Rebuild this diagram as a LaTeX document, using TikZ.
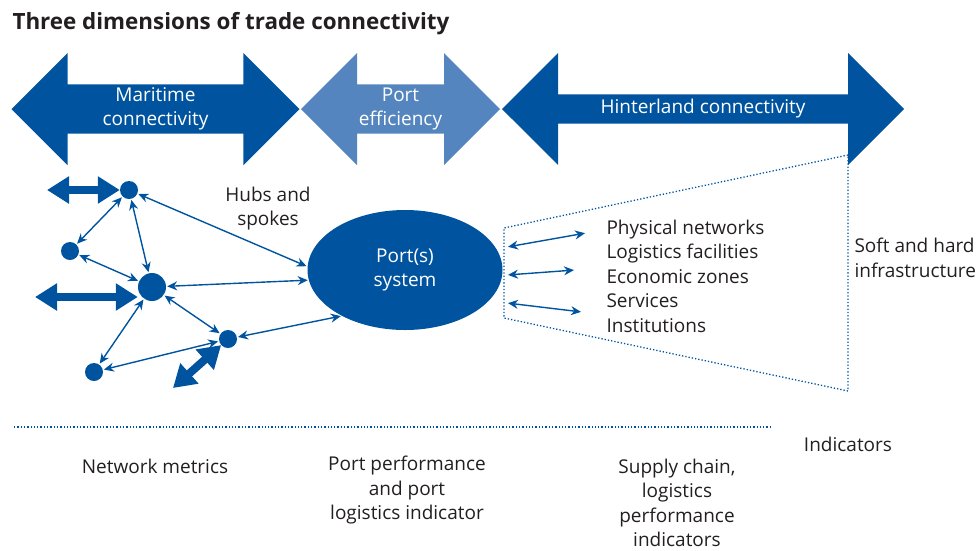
\documentclass[tikz,border=0pt]{standalone}
\usepackage{fontspec}
\setmainfont{Open Sans}
\usetikzlibrary{shapes.geometric,shapes.arrows,arrows.meta}
\definecolor{dblue}{RGB}{0,84,159}
\definecolor{lblue}{RGB}{84,133,190}
\definecolor{ink}{RGB}{35,31,32}

\begin{document}
\begin{tikzpicture}[x=1pt,y=-1pt]
	\tikzset{every node/.style={font=\fontsize{19}{24.5}\selectfont,text=ink,align=center}}
	\tikzset{band/.style={shape=double arrow,double arrow head extend=27.5pt,double arrow tip angle=90,minimum width=112pt,inner sep=0pt,text=white}}
	\tikzset{dot/.style={circle,fill=dblue,inner sep=0pt,minimum size=18pt}}
	\tikzset{link/.style={draw=dblue,line width=1.4pt,{Stealth[length=10pt,width=9pt]}-{Stealth[length=10pt,width=9pt]},shorten >=1pt,shorten <=1pt}}
	\tikzset{fat/.style={draw=dblue,line width=8pt,{Triangle[length=22pt,width=26pt]}-{Triangle[length=22pt,width=26pt]}}}
	\tikzset{frame/.style={draw=dblue,dotted,line width=1.3pt}}
	\useasboundingbox (0,0) rectangle (980,550);

	% heading
	\node[anchor=west,font=\bfseries\fontsize{22.4}{26}\selectfont] (title) at (9,24) {Three dimensions of trade connectivity};

	% the three dimensions
	\node[band,fill=dblue,minimum height=288pt] (marit) at (155.5,109) {Maritime\\connectivity};
	\node[band,fill=lblue,minimum height=199pt] (effic) at (400.5,109) {Port\\efficiency};
	\node[band,fill=dblue,minimum height=402pt] (hinter) at (703,109) {Hinterland connectivity};

	% maritime network
	\node[dot] (top) at (129,190) {};
	\node[dot] (left) at (70,251) {};
	\node[dot,minimum size=28pt] (hub) at (152,287) {};
	\node[dot] (right) at (228,339) {};
	\node[dot] (low) at (94,372) {};
	\node[ellipse,fill=dblue,minimum width=195pt,minimum height=120pt,text=white] (port) at (405,270) {Port(s)\\system};
	\node (hubs) at (268,208.5) {Hubs and\\spokes};

	\draw[link] (top) -- (left);
	\draw[link] (top) -- (hub);
	\draw[link] (top) -- (port.178);
	\draw[link] (left) -- (hub);
	\draw[link] (hub) -- (port.186);
	\draw[link] (hub) -- (right);
	\draw[link] (hub) -- (low);
	\draw[link] (low) -- (right);
	\draw[link] (right) -- (port.216);

	\coordinate (sea1) at (47,190);
	\coordinate (sea2) at (35,297);
	\coordinate (sea3) at (173,388);
	\draw[fat] (sea1) -- (sea1 -| top.west);
	\draw[fat] (sea2) -- (sea2 -| hub.west);
	\draw[fat] (sea3) -- (right);

	% hinterland side
	\coordinate (tl) at (504,228);
	\coordinate (bl) at (504,318);
	\coordinate (tr) at (848,155);
	\coordinate (br) at (848,391);
	\draw[frame] (tr) -- (tl) -- (bl) -- (br) -- cycle;

	\coordinate (h1a) at (507,247); \coordinate (h1b) at (586,233);
	\coordinate (h2a) at (507,275); \coordinate (h2b) at (575,270);
	\coordinate (h3a) at (507,303); \coordinate (h3b) at (582,312);
	\draw[link] (h1a) -- (h1b);
	\draw[link] (h2a) -- (h2b);
	\draw[link] (h3a) -- (h3b);

	\node[anchor=west,align=left] (list) at (603,276) {Physical networks\\Logistics facilities\\Economic zones\\Services\\Institutions};
	\node[anchor=west,align=left] (soft) at (851,258) {Soft and hard\\infrastructure};

	% indicators
	\coordinate (d1) at (14,427);
	\coordinate (d2) at (770,427);
	\draw[frame] (d1) -- (d2);

	\node (ind) at (848,444) {Indicators};
	\node (netm) at (155,466) {Network metrics};
	\node (perf) at (407,490.5) {Port performance\\and port\\logistics indicator};
	\node (supply) at (677,503) {Supply chain,\\logistics\\performance\\indicators};
\end{tikzpicture}
\end{document}
